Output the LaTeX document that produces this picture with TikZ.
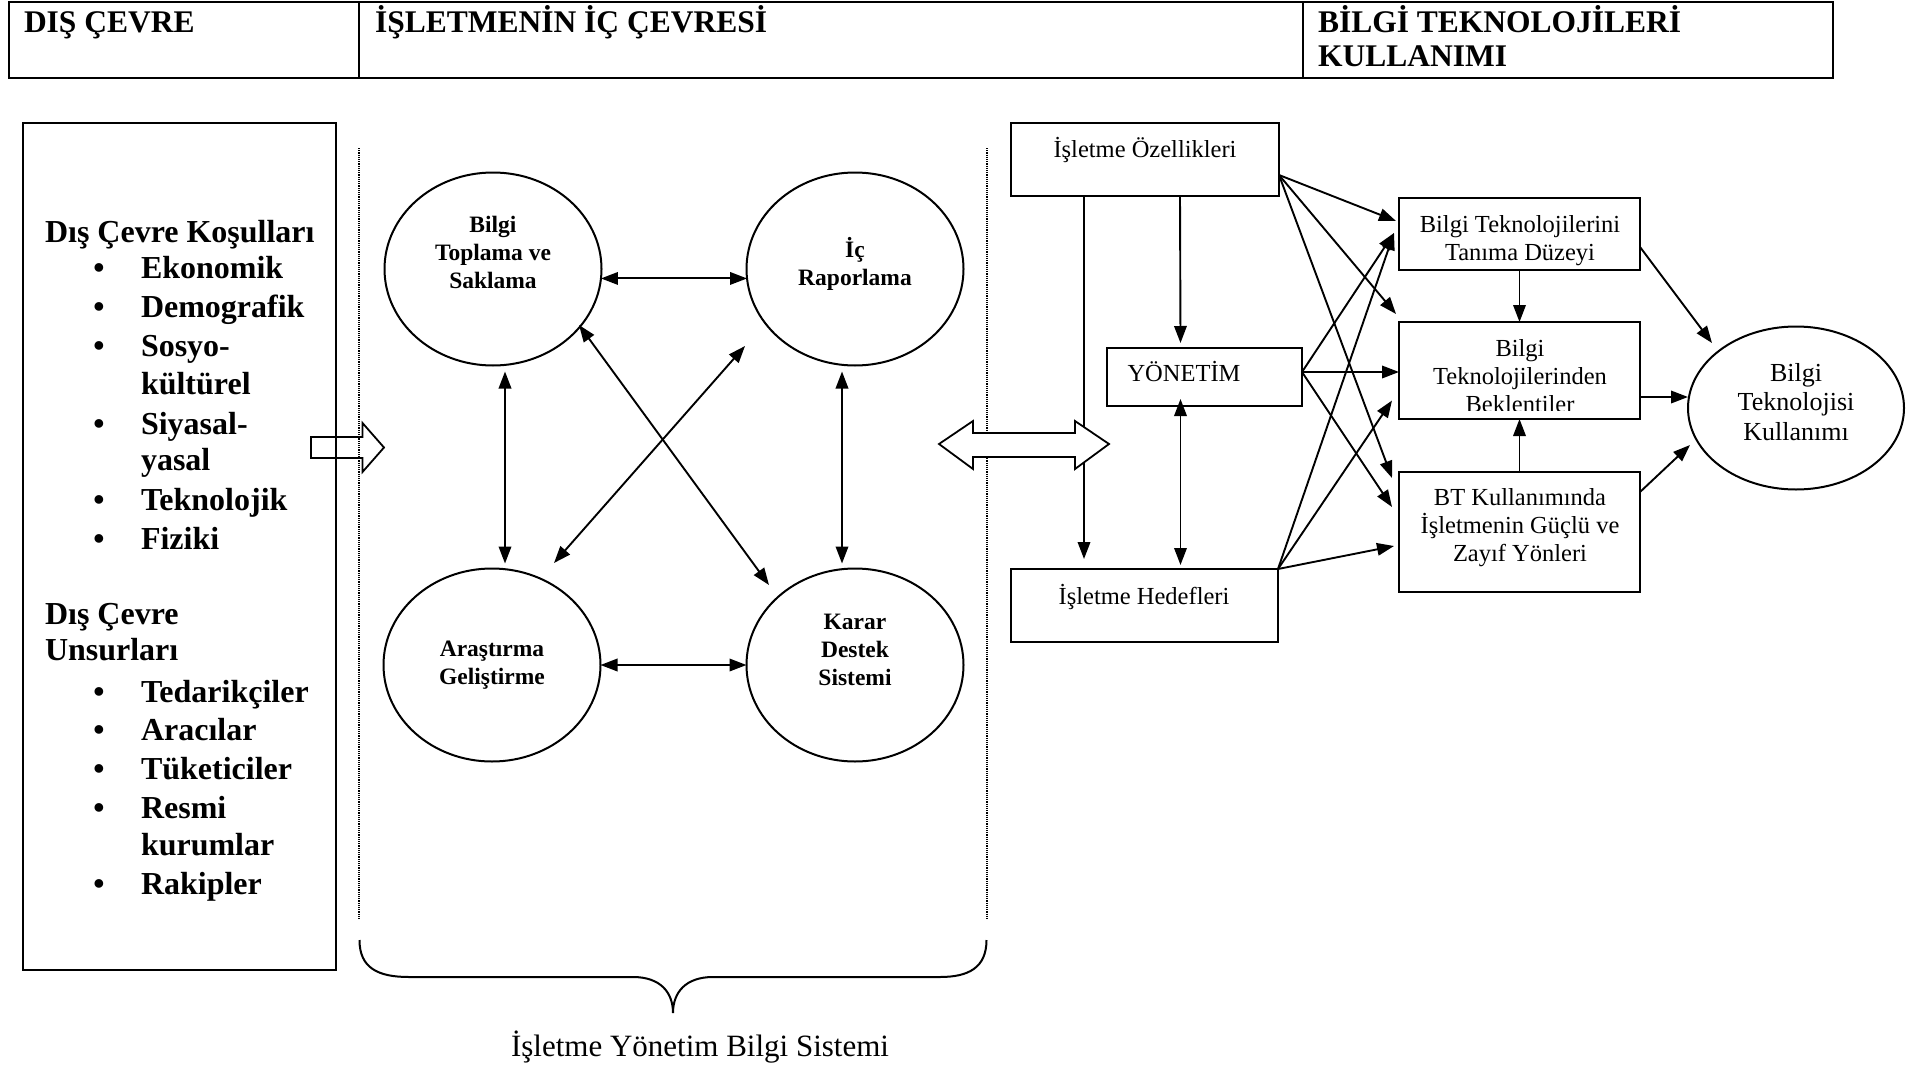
\documentclass[tikz,border=0pt]{standalone}
\usepackage{fontspec}
\newfontfamily\tnr{Liberation Serif}
\usetikzlibrary{arrows.meta,shapes.geometric,calc}
\newcommand\fsz[2]{\fontsize{#1}{#2}\selectfont}

\tikzset{
  every node/.style={inner sep=0pt, outer sep=0pt},
  cell/.style={draw, line width=2pt, anchor=north west, minimum height=76pt},
  htext/.style={anchor=base west, font=\tnr\bfseries\fsz{31.5}{36}},
  listtext/.style={anchor=base west, font=\tnr\bfseries\fsz{32}{38}},
  bul/.style={anchor=base, font=\tnr\bfseries\fsz{32}{38}},
  frame/.style={draw, line width=2pt, rectangle},
  circ/.style={draw, ellipse, line width=2pt, minimum width=217pt, minimum height=193pt},
  ctext/.style={align=center, font=\tnr\bfseries\fsz{23.5}{28}},
  rtext/.style={align=center, font=\tnr\fsz{24.5}{28}},
  tip/.tip={Triangle[length=17pt,width=12.5pt]},
  arr/.style={line width=1.9pt, -tip},
  dbl/.style={line width=1.9pt, tip-tip},
  dotline/.style={line width=1.5pt, dash pattern=on 1.2pt off 1pt},
  blockarrow/.style={line width=1.8pt, line join=miter}
}

\begin{document}
\begin{tikzpicture}[x=1pt,y=-1pt]
\useasboundingbox[fill=white] (0,0) rectangle (1922,1068);

% ---------- header row ----------
\node[cell, minimum width=350.4pt] (c1) at (8.6,1.5) {};
\node[cell, minimum width=944pt] (c2) at (359,1.5) {};
\node[cell, minimum width=530pt] (c3) at (1303,1.5) {};
\node[htext] (h1) at (24,32) {DIŞ ÇEVRE};
\node[htext] (h2) at (375,32) {İŞLETMENİN İÇ ÇEVRESİ};
\node[htext] (h3) at (1318,32) {BİLGİ TEKNOLOJİLERİ};
\node[htext] (h4) at (1318,66) {KULLANIMI};

% ---------- external environment box ----------
\node[frame, anchor=north west, minimum width=313pt, minimum height=847pt] (dis) at (23,123) {};
\node[listtext] (k0) at (45,242) {Dış Çevre Koşulları};
\node[bul] (b1) at (99,278.5) {•}; \node[listtext] (k1) at (141,278.5) {Ekonomik};
\node[bul] (b2) at (99,317.7) {•}; \node[listtext] (k2) at (141,317.7) {Demografik};
\node[bul] (b3) at (99,356.3) {•}; \node[listtext] (k3) at (141,356.3) {Sosyo-};
\node[listtext] (k3b) at (141,394.9) {kültürel};
\node[bul] (b4) at (99,434) {•}; \node[listtext] (k4) at (141,434) {Siyasal-};
\node[listtext] (k4b) at (141,470.4) {yasal};
\node[bul] (b5) at (99,510) {•}; \node[listtext] (k5) at (141,510) {Teknolojik};
\node[bul] (b6) at (99,549.3) {•}; \node[listtext] (k6) at (141,549.3) {Fiziki};
\node[listtext] (u0) at (45,624) {Dış Çevre};
\node[listtext] (u0b) at (45,660.5) {Unsurları};
\node[bul] (d1) at (99,702) {•}; \node[listtext] (u1) at (141,702) {Tedarikçiler};
\node[bul] (d2) at (99,740.5) {•}; \node[listtext] (u2) at (141,740.5) {Aracılar};
\node[bul] (d3) at (99,779.7) {•}; \node[listtext] (u3) at (141,779.7) {Tüketiciler};
\node[bul] (d4) at (99,818.3) {•}; \node[listtext] (u4) at (141,818.3) {Resmi};
\node[listtext] (u4b) at (141,855.7) {kurumlar};
\node[bul] (d5) at (99,894.9) {•}; \node[listtext] (u5) at (141,894.9) {Rakipler};

% arrow from the external environment into the system
\draw[blockarrow] (311,437) -- (362.5,437) -- (362.5,423) -- (384,447.5)
  -- (362.5,472) -- (362.5,458) -- (311,458) -- cycle;

% ---------- internal environment: dotted bounds and brace ----------
\draw[dotline] (359,148) -- (359,920);
\draw[dotline] (987,148) -- (987,920);
\draw[line width=2pt] (359.5,940) .. controls (359.5,968) and (378,977) .. (409,977)
  -- (633,977) .. controls (660,977) and (673,992) .. (673,1013)
  .. controls (673,992) and (686,977) .. (713,977)
  -- (940,977) .. controls (968,977) and (986.5,968) .. (986.5,940);
\node[anchor=base, font=\tnr\fsz{31}{36}] (cap) at (700,1056) {İşletme Yönetim Bilgi Sistemi};

% ---------- the four subsystems ----------
\node[circ] (e1) at (493,269) {};
\node[circ] (e2) at (855,269) {};
\node[circ] (e3) at (492,665) {};
\node[circ] (e4) at (855,665) {};
\node[ctext] (t1) at (493,252) {Bilgi\\Toplama ve\\Saklama};
\node[ctext] (t2) at (855,264) {İç\\Raporlama};
\node[ctext] (t3) at (492,665) {Araştırma\\Geliştirme};
\node[ctext] (t4) at (855,649.5) {Karar\\Destek\\Sistemi};

\draw[dbl] (e1.-5) -- (e2.-175);
\draw[dbl] (e3.east) -- (e4.west);
\draw[dbl] ($(e1.south)+(12,6)$) -- ($(e3.north)+(13,-5)$);
\draw[dbl] ($(e2.south)+(-13,6)$) -- ($(e4.north)+(-13,-5)$);
\draw[dbl] ($(e1.center)+(86,56)$) -- ($(e4.center)+(-86,-80)$);
\draw[dbl] ($(e3.center)+(62,-102)$) -- ($(e2.center)+(-110,77)$);

% ---------- organisation side ----------
\node[frame, minimum width=268pt, minimum height=73pt] (oz) at (1145,159.5) {};
\node[frame, minimum width=195pt, minimum height=58pt] (yon) at (1204.5,377) {};
\node[frame, minimum width=267pt, minimum height=73pt] (hed) at (1144.5,605.5) {};
\node[rtext] (ozt) at (1145,150) {İşletme Özellikleri};
\node[rtext] (yont) at (1184,372) {YÖNETİM};
\node[rtext] (hedt) at (1144,597) {İşletme Hedefleri};

\draw[arr] ($(oz.south west)+(73,0)$) -- ($(hed.north west)+(73,-10)$);
\draw[arr] ($(oz.south)+(35,0)$) -- ($(yon.north)+(-24,-5)$);
\draw[dbl] ($(yon.south)+(-24,-7)$) -- ($(hed.north)+(36,-4)$);

% two-way exchange between the system and the organisation
\draw[blockarrow, fill=white] (939,444) -- (973,421) -- (973,433) -- (1075,433) -- (1075,421)
  -- (1109,444) -- (1075,469) -- (1075,457) -- (973,457) -- (973,469) -- cycle;

% ---------- IT usage side ----------
\node[frame, minimum width=241pt, minimum height=72pt] (tan) at (1519.5,234) {};
\node[frame, minimum width=241pt, minimum height=97pt] (bek) at (1519.5,370.5) {};
\node[frame, minimum width=241pt, minimum height=120pt] (bt) at (1519.5,532) {};
\node[draw, ellipse, line width=2pt, minimum width=216pt, minimum height=163pt] (btk) at (1796,408) {};
\node[rtext] (tant) at (1520,241) {Bilgi Teknolojilerini\\Tanıma Düzeyi};
\begin{scope}
  \clip (bek.north west) rectangle ($(bek.south east)+(0,-9)$);
  \node[rtext] (bekt) at (1520,376.6) {Bilgi\\Teknolojilerinden\\Beklentiler};
\end{scope}
\node[rtext] (btt) at (1520,528) {BT Kullanımında\\İşletmenin Güçlü ve\\Zayıf Yönleri};
\node[align=center, font=\tnr\fsz{26}{29.5}] (btkt) at (1796,402) {Bilgi\\Teknolojisi\\Kullanımı};

% sources of the crossing connectors
\coordinate (os) at ($(oz.south east)+(0,-21)$);
\coordinate (ys) at ($(yon.east)+(0,-5)$);
\coordinate (hs) at (hed.north east);

\draw[arr] (os) -- ($(tan.west)+(-3,-13)$);
\draw[arr] (os) -- ($(bek.north west)+(-3,-8)$);
\draw[arr] (os) -- ($(bt.north west)+(-7,6)$);
\draw[arr] (ys) -- ($(tan.west)+(-5,-1)$);
\draw[arr] (ys) -- ($(bek.west)+(0,1.5)$);
\draw[arr] (ys) -- ($(bt.west)+(-7,-25)$);
\draw[arr] (hs) -- ($(tan.west)+(-5,-1)$);
\draw[arr] (hs) -- ($(bek.west)+(-7,30)$);
\draw[arr] (hs) -- ($(bt.west)+(-5,14)$);

\draw[arr] (tan.south) -- (bek.north);
\draw[arr] (bt.north) -- (bek.south);
\draw[arr] ($(tan.east)+(0,13)$) -- ($(btk.center)+(-84,-65)$);
\draw[arr] ($(bek.east)+(0,26.5)$) -- ($(btk.center)+(-108,-11)$);
\draw[arr] ($(bt.north east)+(0,20)$) -- ($(btk.center)+(-106,37)$);
\end{tikzpicture}
\end{document}
